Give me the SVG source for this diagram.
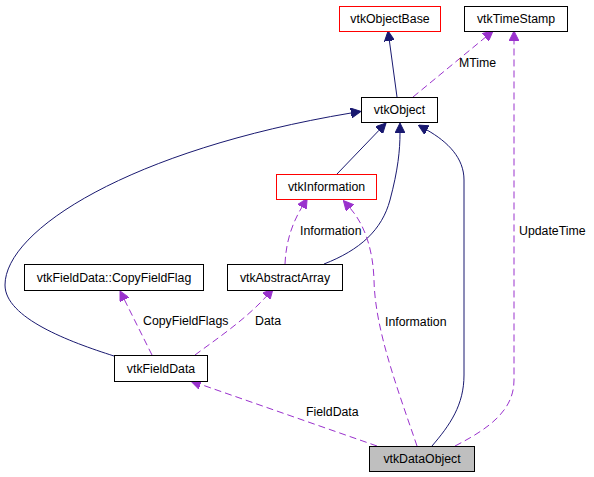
<svg xmlns="http://www.w3.org/2000/svg" width="594" height="477" viewBox="0 0 594 477">
<style>
.box{fill:#ffffff;stroke:#000000;stroke-width:1}
.red{stroke:#ff0000}
.gray{fill:#bfbfbf}
.lbl{font-family:"Liberation Sans",Arial,sans-serif;font-size:12.3px;fill:#000000}
.c{text-anchor:middle}
.solid{fill:none;stroke:#191970;stroke-width:1}
.dash{fill:none;stroke:#9a32cd;stroke-width:1;stroke-dasharray:7,4}
</style>
<defs>
<marker id="an" viewBox="0 0 10 10" refX="0" refY="5" markerWidth="10" markerHeight="10" markerUnits="userSpaceOnUse" orient="auto"><path d="M0,0 L10,5 L0,10 z" fill="#191970" stroke="#191970"/></marker>
<marker id="ap" viewBox="0 0 10 10" refX="0" refY="5" markerWidth="10" markerHeight="10" markerUnits="userSpaceOnUse" orient="auto"><path d="M0,0 L10,5 L0,10 z" fill="#9a32cd" stroke="#9a32cd"/></marker>
</defs>
<rect width="594" height="477" fill="#ffffff"/>
<g id="connectors">
<path class="solid" marker-end="url(#an)" d="M397,97 L389.4,40.9"/>
<path class="dash" marker-end="url(#ap)" d="M413,97 L485.3,37.4"/>
<path class="dash" marker-end="url(#ap)" d="M455,446 C490,428 514,410 514,380 L514,41"/>
<path class="solid" marker-end="url(#an)" d="M114,356 C70,342 5,318 5,285 C5,230 130,150 351,113"/>
<path class="solid" marker-end="url(#an)" d="M337,174 L379.1,130.2"/>
<path class="solid" marker-end="url(#an)" d="M324,264 C360,250 382,230 390,200 C398,170 400,150 400,133"/>
<path class="solid" marker-end="url(#an)" d="M432,446 C450,425 464,405 464,375 L464,180 C464,158 448,142 427,130"/>
<path class="dash" marker-end="url(#ap)" d="M285,264 C286,240 293,222 302,207"/>
<path class="dash" marker-end="url(#ap)" d="M417,446 C398,390 375,330 374,280 C373,250 365,225 350,208"/>
<path class="dash" marker-end="url(#ap)" d="M152,355 L124.5,299.9"/>
<path class="dash" marker-end="url(#ap)" d="M195,355 C215,340 245,320 266.3,296.4"/>
<path class="dash" marker-end="url(#ap)" d="M377,446 L200.4,384.3"/>
<text class="lbl" x="459" y="67">MTime</text>
<text class="lbl" x="519" y="235">UpdateTime</text>
<text class="lbl" x="300" y="235">Information</text>
<text class="lbl" x="385" y="326">Information</text>
<text class="lbl" x="143" y="325">CopyFieldFlags</text>
<text class="lbl" x="255" y="325">Data</text>
<text class="lbl" x="306" y="416">FieldData</text>
</g>
<g id="vtkObjectBase"><rect class="box red" x="339.5" y="6.5" width="101" height="25"/><text class="lbl c" x="390" y="23">vtkObjectBase</text></g>
<g id="vtkTimeStamp"><rect class="box" x="464.5" y="6.5" width="103" height="25"/><text class="lbl c" x="516" y="23">vtkTimeStamp</text></g>
<g id="vtkObject"><rect class="box" x="361.5" y="97.5" width="76" height="25"/><text class="lbl c" x="399.5" y="114">vtkObject</text></g>
<g id="vtkInformation"><rect class="box red" x="276.5" y="174.5" width="100" height="25"/><text class="lbl c" x="326.5" y="191">vtkInformation</text></g>
<g id="vtkFieldData_CopyFieldFlag"><rect class="box" x="24.5" y="264.5" width="179" height="26"/><text class="lbl c" x="114" y="281.5">vtkFieldData::CopyFieldFlag</text></g>
<g id="vtkAbstractArray"><rect class="box" x="227.5" y="264.5" width="115" height="26"/><text class="lbl c" x="285" y="281.5">vtkAbstractArray</text></g>
<g id="vtkFieldData"><rect class="box" x="114.5" y="355.5" width="93" height="26"/><text class="lbl c" x="161" y="372.5">vtkFieldData</text></g>
<g id="vtkDataObject"><rect class="box gray" x="369.5" y="446.5" width="105" height="25"/><text class="lbl c" x="422" y="463">vtkDataObject</text></g>
</svg>
